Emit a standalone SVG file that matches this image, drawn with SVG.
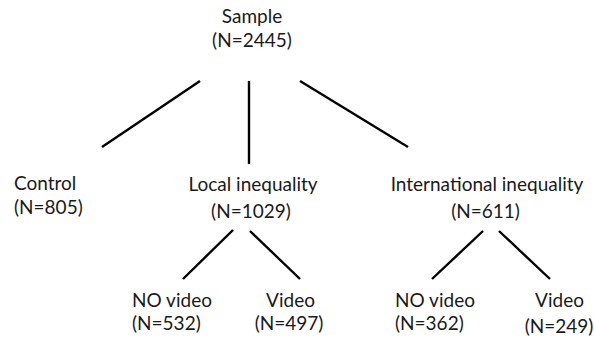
<svg xmlns="http://www.w3.org/2000/svg" width="594" height="342" viewBox="0 0 594 342">
  <style>
    text { font-family: Lato, "Open Sans", "Liberation Sans", sans-serif; font-size: 19px; fill: #1a1a1a; }
    .c { text-anchor: middle; }
    .l { text-anchor: start; }
    .edge { stroke: #000; stroke-width: 2.4; stroke-linecap: butt; fill: none; }
  </style>
  <rect width="594" height="342" fill="#fff"/>
  <g id="connectors">
    <line class="edge" x1="200" y1="81" x2="102" y2="147"/>
    <line class="edge" x1="249" y1="81" x2="249" y2="164"/>
    <line class="edge" x1="300" y1="81" x2="408" y2="147"/>
    <line class="edge" x1="233" y1="230" x2="183" y2="279"/>
    <line class="edge" x1="250" y1="231" x2="300" y2="279"/>
    <line class="edge" x1="483" y1="231" x2="432" y2="279"/>
    <line class="edge" x1="499" y1="231" x2="550" y2="279"/>
  </g>
  <g id="sample">
    <text class="c" x="252" y="23">Sample</text>
    <text class="c" x="252" y="47">(N=2445)</text>
  </g>
  <g id="control">
    <text class="l" x="14" y="190">Control</text>
    <text class="l" x="14" y="214">(N=805)</text>
  </g>
  <g id="local">
    <text class="c" x="253" y="191">Local inequality</text>
    <text class="c" x="251" y="218">(N=1029)</text>
  </g>
  <g id="international">
    <text class="c" x="487" y="191">International inequality</text>
    <text class="c" x="485.5" y="218">(N=611)</text>
  </g>
  <g id="local-novideo">
    <text class="l" x="132" y="307">NO video</text>
    <text class="l" x="132" y="330">(N=532)</text>
  </g>
  <g id="local-video">
    <text class="c" x="290.5" y="307">Video</text>
    <text class="c" x="289" y="330">(N=497)</text>
  </g>
  <g id="intl-novideo">
    <text class="l" x="395" y="307">NO video</text>
    <text class="l" x="395" y="330">(N=362)</text>
  </g>
  <g id="intl-video">
    <text class="c" x="559.5" y="307">Video</text>
    <text class="c" x="559" y="333">(N=249)</text>
  </g>
</svg>
